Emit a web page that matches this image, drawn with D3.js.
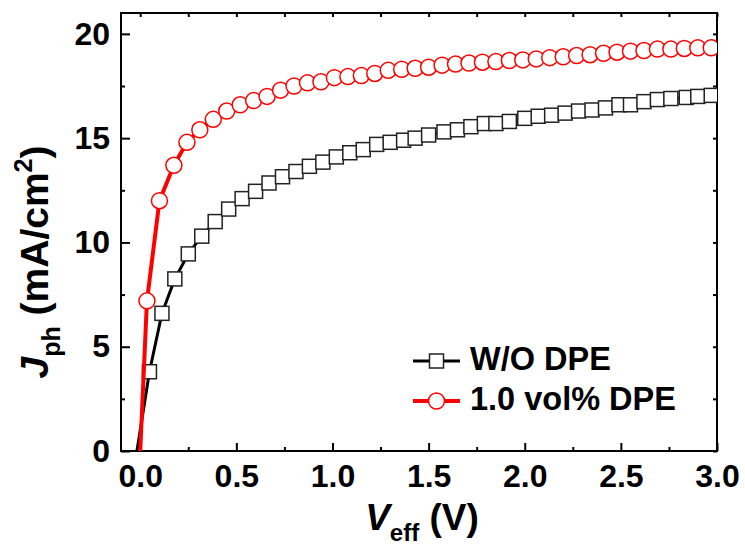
<!DOCTYPE html>
<html>
<head>
<meta charset="utf-8">
<script src="https://cdn.jsdelivr.net/npm/d3@7"></script>
<style>
  body { margin: 0; background: #fff; }
  svg text { font-family: "Liberation Sans", Arial, sans-serif; font-weight: bold; }
</style>
</head>
<body>
<div id="chart"></div>
<script>
// W/O DPE
const veffBlack = [-0.017, 0.048, 0.113, 0.18, 0.25, 0.32, 0.39, 0.46, 0.53, 0.60, 0.67, 0.74, 0.81, 0.88, 0.95, 1.02, 1.09, 1.16, 1.23, 1.30, 1.37, 1.43, 1.50, 1.58, 1.65, 1.72, 1.79, 1.85, 1.92, 2.00, 2.07, 2.14, 2.21, 2.28, 2.35, 2.42, 2.49, 2.55, 2.62, 2.69, 2.76, 2.84, 2.90, 2.97];
const jphBlack = [0, 3.8, 6.6, 8.25, 9.45, 10.3, 11.0, 11.6, 12.1, 12.45, 12.85, 13.15, 13.4, 13.65, 13.85, 14.1, 14.3, 14.45, 14.7, 14.8, 14.9, 15.0, 15.15, 15.3, 15.4, 15.55, 15.7, 15.7, 15.8, 15.95, 16.05, 16.1, 16.2, 16.3, 16.35, 16.45, 16.6, 16.6, 16.75, 16.85, 16.9, 16.95, 17.0, 17.05];

// 1.0 vol% DPE
const veffRed = [0.0, 0.035, 0.10, 0.175, 0.243, 0.31, 0.38, 0.45, 0.52, 0.59, 0.66, 0.73, 0.80, 0.87, 0.94, 1.01, 1.08, 1.15, 1.22, 1.29, 1.36, 1.43, 1.50, 1.57, 1.64, 1.71, 1.78, 1.85, 1.92, 1.99, 2.06, 2.13, 2.20, 2.27, 2.34, 2.41, 2.48, 2.55, 2.62, 2.69, 2.76, 2.83, 2.90, 2.97];
const jphRed = [0, 7.2, 12.0, 13.7, 14.8, 15.4, 15.9, 16.3, 16.6, 16.8, 17.0, 17.3, 17.5, 17.65, 17.7, 17.9, 17.95, 18.0, 18.1, 18.25, 18.3, 18.35, 18.4, 18.5, 18.55, 18.6, 18.64, 18.67, 18.72, 18.75, 18.8, 18.86, 18.9, 18.96, 19.0, 19.07, 19.12, 19.17, 19.2, 19.27, 19.27, 19.3, 19.33, 19.33];

const seriesNames = ['W/O DPE', '1.0 vol% DPE'];
const xTicks = [0, 0.5, 1.0, 1.5, 2.0, 2.5, 3.0];
const xMinor = [0.25, 0.75, 1.25, 1.75, 2.25, 2.75];
const yTicks = [0, 5, 10, 15, 20];
const yMinor = [2.5, 7.5, 12.5, 17.5];

(() => {
  const W = 745, H = 547;
  const pl = 121, pr = 717, pt = 13, pb = 451;

  const svg = d3.select('#chart').append('svg')
    .attr('width', W).attr('height', H);

  const x = d3.scaleLinear().domain([-0.1, 3.0]).range([pl, pr]);
  const y = d3.scaleLinear().domain([0, 21]).range([pb, pt]);

  svg.append('clipPath').attr('id', 'clip')
    .append('rect')
    .attr('x', pl).attr('y', pt)
    .attr('width', pr - pl).attr('height', pb - pt);

  // ejes con ticks hacia dentro
  const fontPx = 32;
  function styleAxis(g) {
    g.select('.domain').remove();
    g.selectAll('.tick line').attr('stroke', '#000').attr('stroke-width', 2);
    g.selectAll('.tick text').attr('fill', '#000').style('font-size', fontPx + 'px');
  }

  svg.append('g').attr('transform', `translate(0,${pb})`)
    .call(d3.axisBottom(x).tickValues(xTicks).tickFormat(d3.format('.1f')).tickSizeInner(-8).tickSizeOuter(0).tickPadding(13))
    .call(styleAxis);
  svg.append('g').attr('transform', `translate(0,${pb})`)
    .call(d3.axisBottom(x).tickValues(xMinor).tickFormat('').tickSizeInner(-4).tickSizeOuter(0))
    .call(styleAxis);
  svg.append('g').attr('transform', `translate(${pl},0)`)
    .call(d3.axisLeft(y).tickValues(yTicks).tickFormat(d3.format('d')).tickSizeInner(-9).tickSizeOuter(0).tickPadding(11))
    .call(styleAxis);
  svg.append('g').attr('transform', `translate(${pl},0)`)
    .call(d3.axisLeft(y).tickValues(yMinor).tickFormat('').tickSizeInner(-4).tickSizeOuter(0))
    .call(styleAxis);
  svg.append('g').attr('transform', `translate(0,${pt})`)
    .call(d3.axisTop(x).tickValues(xTicks.concat(xMinor)).tickFormat('').tickSizeInner(-4).tickSizeOuter(0))
    .call(styleAxis);
  svg.append('g').attr('transform', `translate(${pr},0)`)
    .call(d3.axisRight(y).tickValues(yTicks.concat(yMinor)).tickFormat('').tickSizeInner(-4).tickSizeOuter(0))
    .call(styleAxis);

  // marco
  svg.append('rect')
    .attr('x', pl).attr('y', pt)
    .attr('width', pr - pl).attr('height', pb - pt)
    .attr('fill', 'none').attr('stroke', '#000').attr('stroke-width', 2);

  const line = d3.line().x(d => x(d[0])).y(d => y(d[1]));
  const blackData = veffBlack.map((v, i) => [v, jphBlack[i]]);
  const redData = veffRed.map((v, i) => [v, jphRed[i]]);

  const plot = svg.append('g').attr('clip-path', 'url(#clip)');

  // serie negra
  plot.append('path').datum(blackData)
    .attr('d', line).attr('fill', 'none')
    .attr('stroke', '#000').attr('stroke-width', 3);
  plot.selectAll('.sq').data(blackData.filter(d => d[1] > 0)).enter()
    .append('rect').attr('class', 'sq')
    .attr('x', d => x(d[0]) - 7).attr('y', d => y(d[1]) - 7)
    .attr('width', 14).attr('height', 14)
    .attr('fill', '#fff').attr('stroke', '#222').attr('stroke-width', 1.5);

  // serie roja
  plot.append('path').datum(redData)
    .attr('d', line).attr('fill', 'none')
    .attr('stroke', '#ff0000').attr('stroke-width', 4);
  plot.selectAll('.ci').data(redData.filter(d => d[1] > 0)).enter()
    .append('circle').attr('class', 'ci')
    .attr('cx', d => x(d[0])).attr('cy', d => y(d[1]))
    .attr('r', 8)
    .attr('fill', '#fff').attr('stroke', '#ff0000').attr('stroke-width', 1.5);

  // leyenda
  const legend = svg.append('g');
  const legY = [361, 401];
  const legColors = ['#000', '#ff0000'];
  seriesNames.forEach((name, i) => {
    const g = legend.append('g').attr('transform', `translate(0,${legY[i]})`);
    g.append('line').attr('x1', 413).attr('x2', 460).attr('y1', 0).attr('y2', 0)
      .attr('stroke', legColors[i]).attr('stroke-width', i === 0 ? 3 : 4);
    if (i === 0) {
      g.append('rect').attr('x', 436.5 - 7).attr('y', -7).attr('width', 14).attr('height', 14)
        .attr('fill', '#fff').attr('stroke', '#222').attr('stroke-width', 1.5);
    } else {
      g.append('circle').attr('cx', 436.5).attr('cy', 0).attr('r', 8)
        .attr('fill', '#fff').attr('stroke', '#ff0000').attr('stroke-width', 1.5);
    }
    g.append('text').attr('x', 470).attr('y', 9)
      .style('font-size', '32.5px').attr('fill', '#000').text(name);
  });

  // títulos de ejes
  const xt = svg.append('text').attr('x', 422).attr('y', 530)
    .attr('text-anchor', 'middle').style('font-size', '37px');
  xt.append('tspan').style('font-style', 'italic').text('V');
  xt.append('tspan').attr('dy', 11).style('font-size', '24px').text('eff');
  xt.append('tspan').attr('dy', -11).text(' (V)');

  const yt = svg.append('text')
    .attr('transform', 'translate(48,262) rotate(-90)')
    .attr('text-anchor', 'middle').style('font-size', '39px');
  yt.append('tspan').style('font-style', 'italic').text('J');
  yt.append('tspan').attr('dy', 12).style('font-size', '25px').text('ph');
  yt.append('tspan').attr('dy', -12).text(' (mA/cm');
  yt.append('tspan').attr('dy', -16).style('font-size', '25px').text('2');
  yt.append('tspan').attr('dy', 16).text(')');
})();
</script>
</body>
</html>
